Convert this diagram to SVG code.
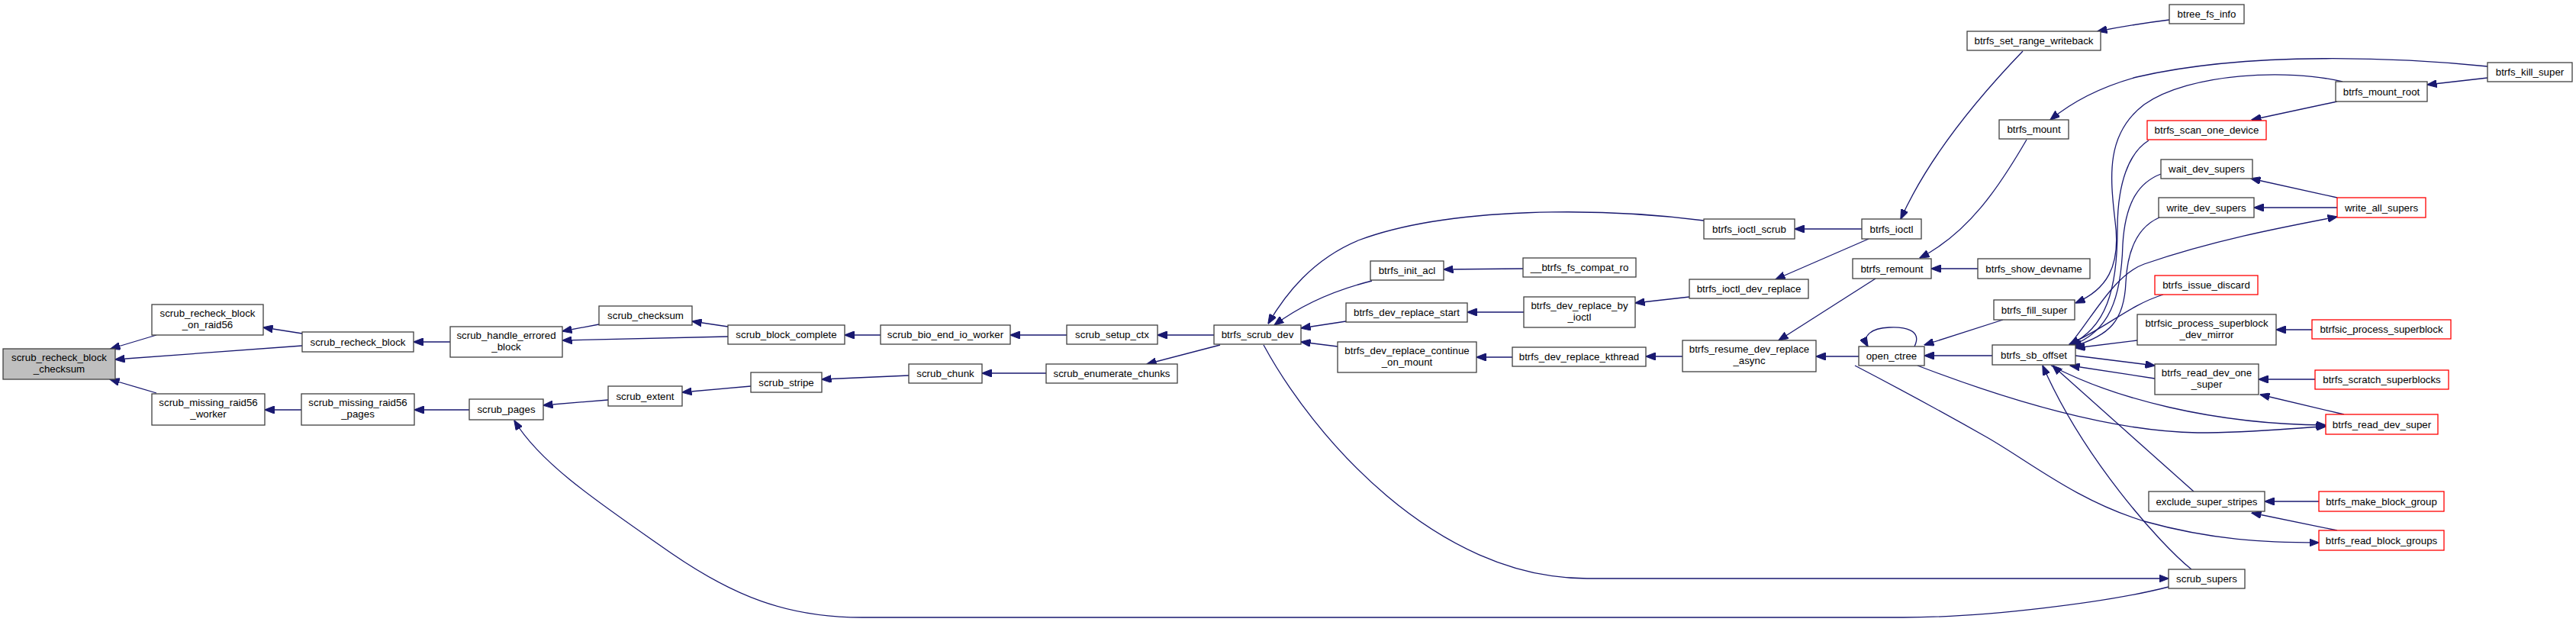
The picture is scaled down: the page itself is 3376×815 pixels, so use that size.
<svg xmlns="http://www.w3.org/2000/svg" width="3376" height="815" viewBox="0 0 3376 815">
<style>
.n rect{fill:#fff;stroke:#404040;stroke-width:1.3}
.r rect{stroke:#ff0000}
.g rect{fill:#bfbfbf}
text{font-family:"Liberation Sans",Arial,Helvetica,sans-serif;font-size:13.3px;text-anchor:middle;fill:#000}
.e path{fill:none;stroke:#191970;stroke-width:1.3;marker-end:url(#ah)}
</style>
<defs>
<marker id="ah" viewBox="0 0 13 10" refX="12.5" refY="5" markerWidth="13" markerHeight="10" markerUnits="userSpaceOnUse" orient="auto"><path d="M0,0L13,5L0,10z" fill="#191970" stroke="#191970" stroke-width="1"/></marker>
</defs>
<rect width="3376" height="815" fill="#fff"/>
<g class="e" id="edges">
<path d="M205,439L145,457"/>
<path d="M396,453L151,471"/>
<path d="M205,515L144,497"/>
<path d="M396,437L345,429"/>
<path d="M590,448L542,448"/>
<path d="M785,425L737,434"/>
<path d="M954,441L737,446"/>
<path d="M954,428L907,421"/>
<path d="M1154,439L1107,439"/>
<path d="M1398,439L1324,439"/>
<path d="M1591,439L1517,439"/>
<path d="M1599,452L1503,477"/>
<path d="M1371,489L1287,489"/>
<path d="M1191,492L1077,497"/>
<path d="M984,506L894,514"/>
<path d="M797,524L712,531"/>
<path d="M615,537L543,537"/>
<path d="M395,537L347,537"/>
<path d="M2842,769C2760,790 2600,809 2494,809L1130,809C1030,809 960,780 880,725C790,662 710,610 674,551"/>
<path d="M1656,452C1720,570 1880,758 2080,758L2842,758"/>
<path d="M2233,289C2100,272 1900,270 1780,315C1720,340 1685,385 1662,424"/>
<path d="M1798,368C1750,380 1705,400 1670,426"/>
<path d="M1764,421L1705,430"/>
<path d="M1753,454L1705,448"/>
<path d="M1996,352L1892,353"/>
<path d="M1997,409L1923,409"/>
<path d="M1982,468L1935,468"/>
<path d="M2214,389L2143,397"/>
<path d="M2205,467L2157,467"/>
<path d="M2440,300L2352,300"/>
<path d="M2449,313L2327,366"/>
<path d="M2458,365L2331,446"/>
<path d="M2436,467L2380,467"/>
<path d="M2509,454C2520,432 2495,428 2476,429C2452,430 2440,440 2448,454"/>
<path d="M2625,419L2522,452"/>
<path d="M2611,466L2522,466"/>
<path d="M2651,67C2600,120 2530,200 2491,287"/>
<path d="M2656,183C2620,245 2580,305 2516,338"/>
<path d="M2592,352L2531,352"/>
<path d="M2843,26C2810,30 2780,35 2749,41"/>
<path d="M3260,87C3150,76 2950,66 2800,101C2760,112 2720,130 2687,157"/>
<path d="M3260,102L3181,111"/>
<path d="M3063,133L2951,157"/>
<path d="M3070,107C3000,90 2870,95 2810,137C2760,175 2765,230 2772,290C2780,350 2760,380 2720,397"/>
<path d="M2816,184C2790,200 2775,240 2775,300C2775,380 2760,430 2712,452"/>
<path d="M2832,228C2800,240 2785,270 2782,320C2780,390 2765,435 2714,453"/>
<path d="M2830,285C2800,298 2788,330 2786,370C2784,420 2765,440 2716,454"/>
<path d="M2712,452C2740,420 2770,360 2810,346C2900,315 2990,298 3063,284"/>
<path d="M2835,386C2790,400 2760,430 2712,451"/>
<path d="M2801,446L2720,456"/>
<path d="M2720,466L2824,479"/>
<path d="M2824,496L2713,479"/>
<path d="M2688,479C2770,522 2900,556 3048,557"/>
<path d="M2513,479C2620,520 2760,565 2880,567C2960,567 3010,560 3048,559"/>
<path d="M2875,644L2690,479"/>
<path d="M2872,746C2830,712 2730,600 2677,479"/>
<path d="M2431,479C2500,515 2560,548 2604,573C2660,605 2720,655 2810,683C2900,708 2970,711 3039,711"/>
<path d="M3072,543L2962,517"/>
<path d="M3034,497L2960,497"/>
<path d="M3030,432L2983,432"/>
<path d="M3039,657L2968,657"/>
<path d="M3063,695L2951,672"/>
<path d="M3063,259L2950,234"/>
<path d="M3063,272L2954,272"/>
</g>
<g id="n1" class="n g"><rect x="4" y="457" width="147" height="40"/><text x="77.5" y="473">scrub_recheck_block</text><text x="77.5" y="488">_checksum</text></g>
<g id="n2" class="n"><rect x="199" y="399" width="146" height="40"/><text x="272" y="415">scrub_recheck_block</text><text x="272" y="430">_on_raid56</text></g>
<g id="n3" class="n"><rect x="396" y="435" width="146" height="26"/><text x="469" y="452.5">scrub_recheck_block</text></g>
<g id="n4" class="n"><rect x="199" y="516" width="148" height="41"/><text x="273" y="532">scrub_missing_raid56</text><text x="273" y="547">_worker</text></g>
<g id="n5" class="n"><rect x="395" y="516" width="148" height="41"/><text x="469" y="532">scrub_missing_raid56</text><text x="469" y="547">_pages</text></g>
<g id="n6" class="n"><rect x="590" y="428" width="147" height="40"/><text x="663.5" y="444">scrub_handle_errored</text><text x="663.5" y="459">_block</text></g>
<g id="n7" class="n"><rect x="615" y="523" width="97" height="27"/><text x="663.5" y="541">scrub_pages</text></g>
<g id="n8" class="n"><rect x="785" y="401" width="122" height="25"/><text x="846" y="418">scrub_checksum</text></g>
<g id="n9" class="n"><rect x="954" y="426" width="153" height="25"/><text x="1030.5" y="443">scrub_block_complete</text></g>
<g id="n10" class="n"><rect x="797" y="506" width="97" height="26"/><text x="845.5" y="523.5">scrub_extent</text></g>
<g id="n11" class="n"><rect x="984" y="488" width="93" height="26"/><text x="1030.5" y="505.5">scrub_stripe</text></g>
<g id="n12" class="n"><rect x="1154" y="426" width="170" height="25"/><text x="1239" y="443">scrub_bio_end_io_worker</text></g>
<g id="n13" class="n"><rect x="1191" y="477" width="96" height="25"/><text x="1239" y="494">scrub_chunk</text></g>
<g id="n14" class="n"><rect x="1398" y="426" width="119" height="25"/><text x="1457.5" y="443">scrub_setup_ctx</text></g>
<g id="n15" class="n"><rect x="1371" y="477" width="172" height="25"/><text x="1457" y="494">scrub_enumerate_chunks</text></g>
<g id="n16" class="n"><rect x="1591" y="426" width="114" height="25"/><text x="1648" y="443">btrfs_scrub_dev</text></g>
<g id="n17" class="n"><rect x="1796" y="342" width="96" height="25"/><text x="1844" y="359">btrfs_init_acl</text></g>
<g id="n18" class="n"><rect x="1764" y="397" width="159" height="25"/><text x="1843.5" y="414">btrfs_dev_replace_start</text></g>
<g id="n19" class="n"><rect x="1753" y="448" width="182" height="40"/><text x="1844" y="464">btrfs_dev_replace_continue</text><text x="1844" y="479">_on_mount</text></g>
<g id="n20" class="n"><rect x="1996" y="338" width="148" height="25"/><text x="2070" y="355">__btrfs_fs_compat_ro</text></g>
<g id="n21" class="n"><rect x="1997" y="389" width="146" height="40"/><text x="2070" y="405">btrfs_dev_replace_by</text><text x="2070" y="420">_ioctl</text></g>
<g id="n22" class="n"><rect x="1982" y="455" width="175" height="25"/><text x="2069.5" y="472">btrfs_dev_replace_kthread</text></g>
<g id="n23" class="n"><rect x="2233" y="287" width="119" height="26"/><text x="2292.5" y="304.5">btrfs_ioctl_scrub</text></g>
<g id="n24" class="n"><rect x="2214" y="366" width="156" height="25"/><text x="2292" y="383">btrfs_ioctl_dev_replace</text></g>
<g id="n25" class="n"><rect x="2205" y="446" width="175" height="41"/><text x="2292.5" y="462">btrfs_resume_dev_replace</text><text x="2292.5" y="477">_async</text></g>
<g id="n26" class="n"><rect x="2440" y="287" width="78" height="26"/><text x="2479" y="304.5">btrfs_ioctl</text></g>
<g id="n27" class="n"><rect x="2428" y="339" width="103" height="26"/><text x="2479.5" y="356.5">btrfs_remount</text></g>
<g id="n28" class="n"><rect x="2436" y="454" width="86" height="25"/><text x="2479" y="471">open_ctree</text></g>
<g id="n29" class="n"><rect x="2578" y="41" width="175" height="25"/><text x="2665.5" y="58">btrfs_set_range_writeback</text></g>
<g id="n30" class="n"><rect x="2620" y="157" width="91" height="25"/><text x="2665.5" y="174">btrfs_mount</text></g>
<g id="n31" class="n"><rect x="2592" y="339" width="147" height="26"/><text x="2665.5" y="356.5">btrfs_show_devname</text></g>
<g id="n32" class="n"><rect x="2613" y="393" width="106" height="26"/><text x="2666" y="410.5">btrfs_fill_super</text></g>
<g id="n33" class="n"><rect x="2611" y="452" width="109" height="26"/><text x="2665.5" y="469.5">btrfs_sb_offset</text></g>
<g id="n34" class="n"><rect x="2843" y="6" width="98" height="25"/><text x="2892" y="23">btree_fs_info</text></g>
<g id="n35" class="n r"><rect x="2814" y="158" width="156" height="25"/><text x="2892" y="175">btrfs_scan_one_device</text></g>
<g id="n36" class="n"><rect x="2832" y="209" width="120" height="25"/><text x="2892" y="226">wait_dev_supers</text></g>
<g id="n37" class="n"><rect x="2829" y="259" width="125" height="26"/><text x="2891.5" y="276.5">write_dev_supers</text></g>
<g id="n38" class="n r"><rect x="2824" y="361" width="135" height="25"/><text x="2891.5" y="378">btrfs_issue_discard</text></g>
<g id="n39" class="n"><rect x="2801" y="412" width="182" height="40"/><text x="2892" y="428">btrfsic_process_superblock</text><text x="2892" y="443">_dev_mirror</text></g>
<g id="n40" class="n"><rect x="2824" y="477" width="136" height="40"/><text x="2892" y="493">btrfs_read_dev_one</text><text x="2892" y="508">_super</text></g>
<g id="n41" class="n"><rect x="2816" y="644" width="152" height="26"/><text x="2892" y="661.5">exclude_super_stripes</text></g>
<g id="n42" class="n"><rect x="2842" y="746" width="100" height="25"/><text x="2892" y="763">scrub_supers</text></g>
<g id="n43" class="n"><rect x="3260" y="82" width="111" height="25"/><text x="3315.5" y="99">btrfs_kill_super</text></g>
<g id="n44" class="n"><rect x="3061" y="107" width="120" height="26"/><text x="3121" y="124.5">btrfs_mount_root</text></g>
<g id="n45" class="n r"><rect x="3063" y="259" width="116" height="26"/><text x="3121" y="276.5">write_all_supers</text></g>
<g id="n46" class="n r"><rect x="3030" y="419" width="182" height="25"/><text x="3121" y="436">btrfsic_process_superblock</text></g>
<g id="n47" class="n r"><rect x="3034" y="485" width="175" height="25"/><text x="3121.5" y="502">btrfs_scratch_superblocks</text></g>
<g id="n48" class="n r"><rect x="3048" y="543" width="147" height="26"/><text x="3121.5" y="560.5">btrfs_read_dev_super</text></g>
<g id="n49" class="n r"><rect x="3039" y="644" width="164" height="26"/><text x="3121" y="661.5">btrfs_make_block_group</text></g>
<g id="n50" class="n r"><rect x="3039" y="695" width="164" height="26"/><text x="3121" y="712.5">btrfs_read_block_groups</text></g>
</svg>
